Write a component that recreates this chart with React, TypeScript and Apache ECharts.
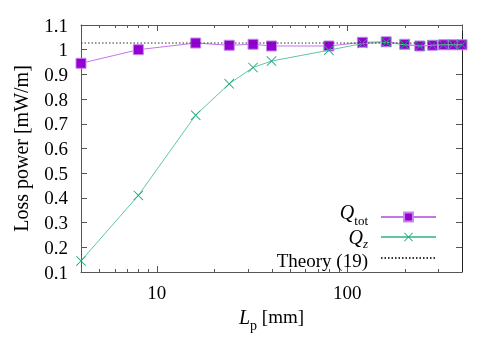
import React, { useEffect, useRef } from 'react';
import * as echarts from 'echarts';

// ---- data ----
const lengthsMm = [4, 8, 16, 24, 32, 40, 80, 120, 160, 200, 240, 280, 320, 360, 400];
const qTot = [0.945, 1.0, 1.027, 1.018, 1.022, 1.015, 1.015, 1.03, 1.032, 1.022, 1.015, 1.018, 1.02, 1.02, 1.02];
const qZ = [0.145, 0.41, 0.735, 0.862, 0.928, 0.954, 0.998, 1.025, 1.03, 1.02, 1.015, 1.018, 1.02, 1.02, 1.02];
const theoryValue = 1.027;
const xRange = [4, 400];
const yRange = [0.1, 1.1];
const yStep = 0.1;
const xMinorTicks = [5, 6, 7, 8, 9, 20, 30, 40, 50, 60, 70, 80, 90, 200, 300];

const FONT = 'Liberation Serif';
const AXIS_COLOR = '#555';
const X_SYMBOL =
  'path://M0,0.6 L0.6,0 L5,4.4 L9.4,0 L10,0.6 L5.6,5 L10,9.4 L9.4,10 L5,5.6 L0.6,10 L0,9.4 L4.4,5 Z';

export default function App() {
  const ref = useRef<HTMLDivElement>(null);
  useEffect(() => {
    if (!ref.current) return;
    const chart = echarts.init(ref.current, undefined, { renderer: 'svg' });

    const baseLabel = { fontFamily: FONT, fontSize: 19, color: '#000' };
    const mainTok = { fontFamily: FONT, fontSize: 20, fontStyle: 'italic', color: '#000', lineHeight: 20 };
    const subTok = { fontFamily: FONT, fontSize: 13, color: '#000', lineHeight: 16 };
    const legendCommon = {
      orient: 'vertical',
      right: 63,
      padding: 0,
      align: 'right',
      itemWidth: 55,
      itemHeight: 11,
      selectedMode: false,
      textStyle: {
        ...baseLabel,
        rich: {
          q1: { ...mainTok, padding: [0, 0, 10, 0] },
          s1: { ...subTok, padding: [10, 0, 4, 0] },
          q2: { ...mainTok, padding: [6, 0, 6, 0] },
          s2: { ...subTok, fontStyle: 'italic', padding: [14, 0, 2, 0] },
          t: { fontFamily: FONT, fontSize: 19, color: '#000', lineHeight: 20, padding: [5, 0, 0, 0] },
          g: { width: 8 },
        },
      },
    };

    chart.setOption({
      animation: false,
      grid: { left: 81, right: 38, top: 25, bottom: 78 },
      legend: [
        { ...legendCommon, top: 202, data: ['Qtot'], formatter: () => '{q1|Q}{s1|tot}{g|}' },
        { ...legendCommon, top: 221, data: ['Qz'], formatter: () => '{q2|Q}{s2|z}{g|}' },
        { ...legendCommon, top: 246, data: ['Theory (19)'], formatter: () => '{t|Theory (19)}{g|}' },
      ],
      xAxis: [
        {
          type: 'log',
          logBase: 10,
          min: xRange[0],
          max: xRange[1],
          position: 'bottom',
          axisLine: { lineStyle: { color: AXIS_COLOR, width: 1 } },
          axisTick: { inside: true, length: 6, lineStyle: { color: AXIS_COLOR } },
          axisLabel: { ...baseLabel, margin: 11, showMinLabel: false, showMaxLabel: false },
          splitLine: { show: false },
          name: '{l|L}{p|p}{t| [mm]}',
          nameLocation: 'middle',
          nameGap: 23,
          nameTextStyle: {
            rich: {
              l: { ...mainTok, fontSize: 20, padding: [0, 0, 10, 0] },
              p: { ...subTok, fontSize: 14, padding: [11, 0, 3, 0] },
              t: { fontFamily: FONT, fontSize: 19, color: '#000', lineHeight: 20, padding: [0, 0, 10, 0] },
            },
          },
        },
        {
          type: 'log',
          logBase: 10,
          min: xRange[0],
          max: xRange[1],
          position: 'top',
          axisLine: { lineStyle: { color: AXIS_COLOR, width: 1 } },
          axisTick: { inside: true, length: 6, lineStyle: { color: AXIS_COLOR } },
          axisLabel: { show: false },
          splitLine: { show: false },
        },
      ],
      yAxis: [
        {
          type: 'value',
          min: yRange[0],
          max: yRange[1],
          interval: yStep,
          position: 'left',
          axisLine: { show: true, lineStyle: { color: AXIS_COLOR, width: 1 } },
          axisTick: { show: true, inside: true, length: 6, lineStyle: { color: AXIS_COLOR } },
          axisLabel: { ...baseLabel, margin: 13 },
          splitLine: { show: false },
          name: 'Loss power [mW/m]',
          nameLocation: 'middle',
          nameGap: 50,
          nameTextStyle: { ...baseLabel, fontSize: 20 },
        },
        {
          type: 'value',
          min: yRange[0],
          max: yRange[1],
          interval: yStep,
          position: 'right',
          axisLine: { show: true, lineStyle: { color: '#222', width: 1 } },
          axisTick: { show: true, inside: true, length: 6, lineStyle: { color: AXIS_COLOR } },
          axisLabel: { show: false },
          splitLine: { show: false },
        },
      ],
      series: [
        {
          type: 'custom',
          name: 'minorTicks',
          silent: true,
          xAxisIndex: 0,
          yAxisIndex: 0,
          data: xMinorTicks.map((v) => [v, yRange[0]]),
          renderItem: (params: any, api: any) => {
            const cs = params.coordSys;
            const x = Math.round(api.coord([api.value(0), api.value(1)])[0]) + 0.5;
            const len = 3;
            const style = { stroke: AXIS_COLOR, lineWidth: 1 };
            return {
              type: 'group',
              children: [
                { type: 'line', shape: { x1: x, y1: cs.y + cs.height, x2: x, y2: cs.y + cs.height - len }, style },
                { type: 'line', shape: { x1: x, y1: cs.y, x2: x, y2: cs.y + len }, style },
              ],
            };
          },
        },
        {
          type: 'line',
          name: 'Qtot',
          data: lengthsMm.map((x, i) => [x, qTot[i]]),
          symbol: 'rect',
          symbolSize: 10,
          itemStyle: { color: '#9400d3', borderColor: '#c486ea', borderWidth: 1 },
          lineStyle: { color: '#c276ea', width: 1 },
          z: 3,
        },
        {
          type: 'line',
          name: 'Qz',
          data: lengthsMm.map((x, i) => [x, qZ[i]]),
          symbol: X_SYMBOL,
          symbolSize: 10,
          itemStyle: { color: '#1aa57c' },
          lineStyle: { color: '#60c6a2', width: 1 },
          z: 4,
        },
        {
          type: 'line',
          name: 'Theory (19)',
          data: [
            [xRange[0], theoryValue],
            [xRange[1], theoryValue],
          ],
          symbol: 'none',
          itemStyle: { color: 'rgba(0,0,0,0)' },
          lineStyle: { color: '#333', width: 1, type: [1.5, 2] },
          z: 5,
        },
      ],
    });
    return () => chart.dispose();
  }, []);
  return <div ref={ref} style={{ position: 'fixed', left: 0, top: 0, width: 500, height: 350 }} />;
}
